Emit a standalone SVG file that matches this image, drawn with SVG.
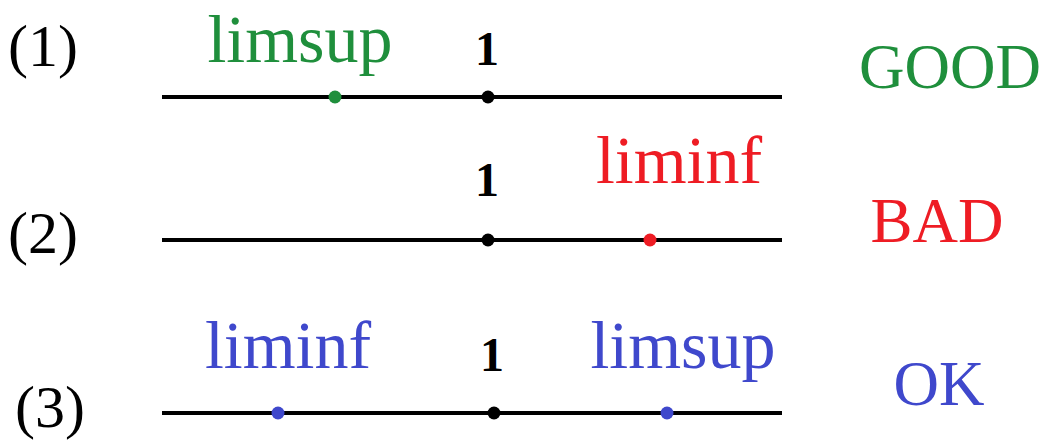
<svg xmlns="http://www.w3.org/2000/svg" width="1047" height="447" viewBox="0 0 1047 447">
<style>
.t{font-family:"Liberation Serif","DejaVu Serif",serif}
.num{font-size:60px;fill:#000}
.one{font-size:48px;font-weight:bold;fill:#000;text-anchor:middle}
.lab{font-size:68px;text-anchor:middle}
.ver{font-size:63px;text-anchor:middle}
.g{fill:#1f8f3c}.r{fill:#ee1c24}.b{fill:#3f48cc}
.ax{stroke:#000;stroke-width:4}
</style>
<rect width="1047" height="447" fill="#fff"/>
<g id="connectors">
<line class="ax" x1="162" y1="97" x2="782" y2="97"/>
<line class="ax" x1="162" y1="240" x2="782" y2="240"/>
<line class="ax" x1="162" y1="413" x2="782" y2="413"/>
</g>
<g id="row1">
<text class="t num" x="8" y="66">(1)</text>
<text class="t lab g" x="300" y="62">limsup</text>
<text class="t one" x="487" y="65">1</text>
<circle cx="335" cy="97" r="6.5" fill="#1f8f3c"/>
<circle cx="488" cy="97" r="6.5" fill="#000"/>
<text class="t ver g" x="950" y="88">GOOD</text>
</g>
<g id="row2">
<text class="t num" x="8" y="253">(2)</text>
<text class="t lab r" x="679" y="183">liminf</text>
<text class="t one" x="487" y="196">1</text>
<circle cx="488" cy="240" r="6.5" fill="#000"/>
<circle cx="650" cy="240" r="6.5" fill="#ee1c24"/>
<text class="t ver r" x="937" y="242">BAD</text>
</g>
<g id="row3">
<text class="t num" x="15" y="427">(3)</text>
<text class="t lab b" x="288" y="368">liminf</text>
<text class="t lab b" x="683" y="368">limsup</text>
<text class="t one" x="492" y="371">1</text>
<circle cx="278" cy="413" r="6.5" fill="#3f48cc"/>
<circle cx="494" cy="413" r="6.5" fill="#000"/>
<circle cx="667" cy="413" r="6.5" fill="#3f48cc"/>
<text class="t ver b" x="939" y="405">OK</text>
</g>
</svg>
